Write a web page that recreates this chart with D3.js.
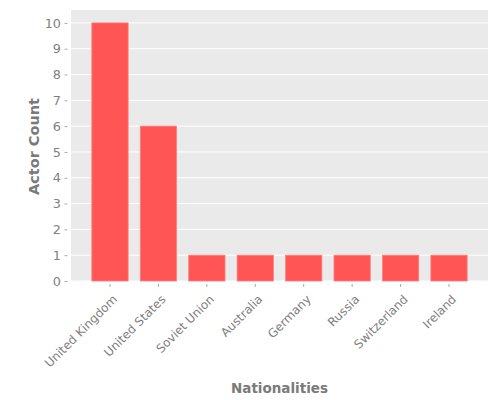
<!DOCTYPE html>
<html><head><meta charset="utf-8">
<script src="https://d3js.org/d3.v7.min.js"></script>
<style>body{margin:0;background:#fff}</style>
</head><body>
<svg id="c" width="500" height="400"></svg>
<script>
const categories = ["United Kingdom","United States","Soviet Union","Australia","Germany","Russia","Switzerland","Ireland"];
const actorCounts = [10,6,1,1,1,1,1,1];
const yTicks = [0,1,2,3,4,5,6,7,8,9,10];

const svg = d3.select("#c");
const m = {l:71, r:12, t:10, b:119};
const W = 500, H = 400;
const x = d3.scaleBand().domain(categories).range([m.l, W-m.r]).paddingInner(0.25).paddingOuter(0.43);
const y = d3.scaleLinear().domain([0,10.5]).range([H-m.b, m.t]);

svg.append("rect").attr("x",m.l).attr("y",m.t).attr("width",W-m.r-m.l).attr("height",H-m.b-m.t).attr("fill","#eaeaea");

svg.append("g").selectAll("line").data(yTicks).join("line")
  .attr("x1",m.l).attr("x2",W-m.r).attr("y1",d=>y(d)).attr("y2",d=>y(d))
  .attr("stroke","#fff").attr("stroke-width",1);

svg.append("g").selectAll("rect").data(categories).join("rect")
  .attr("x",d=>x(d)).attr("width",x.bandwidth())
  .attr("y",(d,i)=>y(actorCounts[i])).attr("height",(d,i)=>y(0)-y(actorCounts[i]))
  .attr("fill","#ff5555").attr("stroke","#ff8080").attr("stroke-width",0.8);

const font = "DejaVu Sans";
const yAxis = svg.append("g").attr("transform",`translate(${m.l},0)`)
  .call(d3.axisLeft(y).tickValues(yTicks).tickSize(6.5).tickPadding(3.5));
yAxis.select(".domain").remove();
yAxis.selectAll("line").attr("stroke","#aaa").attr("x2",-6.5).attr("x1",-3.5);
yAxis.selectAll("text").attr("fill","#808080").style("font-family",font).style("font-size","12.8px");

const xAxis = svg.append("g").attr("transform",`translate(0,${H-m.b})`)
  .call(d3.axisBottom(x).tickSize(6));
xAxis.select(".domain").remove();
xAxis.selectAll("line").attr("stroke","#aaa").attr("y1",3).attr("y2",6);
xAxis.selectAll("text").attr("fill","#808080").style("font-family",font).style("font-size","12px")
  .attr("text-anchor","end").attr("dy",null).attr("y",null)
  .attr("transform","translate(8,19) rotate(-45)");

svg.append("text").attr("x",(m.l+W-m.r)/2).attr("y",392.5).attr("text-anchor","middle")
  .attr("fill","#7a7a7a").style("font-family",font).style("font-size","13.5px").style("font-weight","bold")
  .text("Nationalities");
svg.append("text").attr("transform",`translate(39,${(m.t+H-m.b)/2+1}) rotate(-90)`).attr("text-anchor","middle")
  .attr("fill","#7a7a7a").style("font-family",font).style("font-size","14.5px").style("font-weight","bold")
  .text("Actor Count");
</script>
</body></html>
